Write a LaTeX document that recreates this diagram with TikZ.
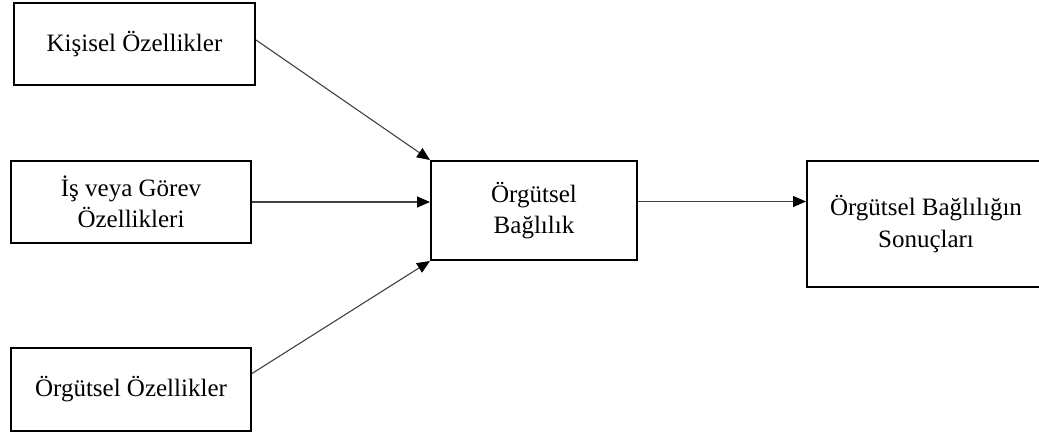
\documentclass[tikz,border=0pt]{standalone}
\usepackage{fontspec}
\setmainfont{Liberation Serif}
\usetikzlibrary{arrows.meta}
\begin{document}
\begin{tikzpicture}[x=1pt,y=-1pt,
  boxnode/.style={draw=black,line width=2pt,inner sep=0pt,align=center,
    font=\fontsize{25}{31.5}\selectfont},
  conn/.style={draw=black!75,line width=1.1pt,-{Triangle[length=13pt,width=11pt,fill=black,color=black]}}]
\useasboundingbox (0,0) rectangle (1039,437);
\node[boxnode,minimum width=241pt,minimum height=82pt] (b1) at (134.5,44) {Kişisel Özellikler};
\node[boxnode,minimum width=240pt,minimum height=82pt] (b2) at (131,202) {İş veya Görev\\Özellikleri};
\node[boxnode,minimum width=240pt,minimum height=83pt] (b3) at (131,389.5) {Örgütsel Özellikler};
\node[boxnode,minimum width=206pt,minimum height=99pt] (c) at (534,210.5) {Örgütsel\\Bağlılık};
\node[boxnode,minimum width=238pt,minimum height=126pt] (r) at (926,224) {Örgütsel Bağlılığın\\Sonuçları};
\draw[conn] ([yshift=4pt]b1.east) -- (c.north west);
\draw[conn] (b2.east) -- (b2.east -| c.west);
\draw[conn] ([yshift=16pt]b3.east) -- (c.south west);
\draw[conn] ([yshift=9pt]c.east) -- ([yshift=9pt]c.east -| r.west);
\end{tikzpicture}
\end{document}
